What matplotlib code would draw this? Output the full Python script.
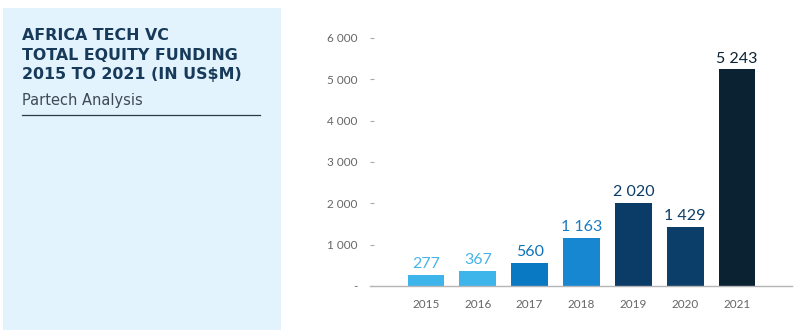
import matplotlib
matplotlib.use('Agg')

import matplotlib.pyplot as plt
from matplotlib.patches import Rectangle

# data
years = ['2015', '2016', '2017', '2018', '2019', '2020', '2021']
funding = [277, 367, 560, 1163, 2020, 1429, 5243]
value_labels = ['277', '367', '560', '1 163', '2 020', '1 429', '5 243']
yticks = [0, 1000, 2000, 3000, 4000, 5000, 6000]
ytick_labels = ['-', '1 000', '2 000', '3 000', '4 000', '5 000', '6 000']

bar_colors = ['#3db4ea', '#3db4ea', '#0a79c3', '#1787d1', '#0b3c68', '#0c3e6a', '#0b2233']
label_colors = ['#46b5e6', '#46b5e6', '#0e72b5', '#1a7cc0', '#0b3c68', '#0c3e6a', '#0b2233']

plt.rcParams['font.family'] = ['Lato', 'DejaVu Sans']

fig = plt.figure(figsize=(8, 3.35), dpi=100)
W, H = 800, 335

# left panel
fig.patches.append(Rectangle((3 / W, (H - 330) / H), 278 / W, 322 / H,
                             transform=fig.transFigure, facecolor='#e2f3fd',
                             edgecolor='none', zorder=0))

title_lines = ['AFRICA TECH VC', 'TOTAL EQUITY FUNDING', '2015 TO 2021 (IN US$M)']
for i, line in enumerate(title_lines):
    fig.text(22 / W, 1 - (35 + i * 20) / H, line, fontsize=11.4, fontweight='bold',
             family='DejaVu Sans', color='#173a5a', va='center', ha='left')
fig.text(22 / W, 1 - 100 / H, 'Partech Analysis', fontsize=10.5, color='#3d4a55',
         family='DejaVu Sans', va='center', ha='left')
fig.add_artist(plt.Line2D([22 / W, 260 / W], [1 - 115 / H, 1 - 115 / H],
                          transform=fig.transFigure, color='#2b3a48', lw=0.9))

ax = fig.add_axes([370 / W, (H - 286) / H, 422 / W, 248 / H])
x = range(len(years))
ax.bar(x, funding, width=0.71, color=bar_colors, zorder=2)
for xi, v, lab, c in zip(x, funding, value_labels, label_colors):
    ax.text(xi, v + 90, lab, ha='center', va='bottom', fontsize=11.5, color=c)

ax.set_xlim(-1.08, 7.06)
ax.set_ylim(0, 6000)
ax.set_xticks(list(x))
ax.set_xticklabels(years, fontsize=8.5, color='#666666')
ax.set_yticks(yticks)
ax.set_yticklabels(ytick_labels, fontsize=8.5, color='#666666')
ax.tick_params(axis='x', length=0, pad=9)
ax.tick_params(axis='y', length=3, color='#aaaaaa', width=0.8, pad=9, direction='in')
for s in ['top', 'right', 'left']:
    ax.spines[s].set_visible(False)
ax.spines['bottom'].set_color('#b5b5b5')
ax.spines['bottom'].set_linewidth(1)

plt.savefig('out.png', dpi=100)
